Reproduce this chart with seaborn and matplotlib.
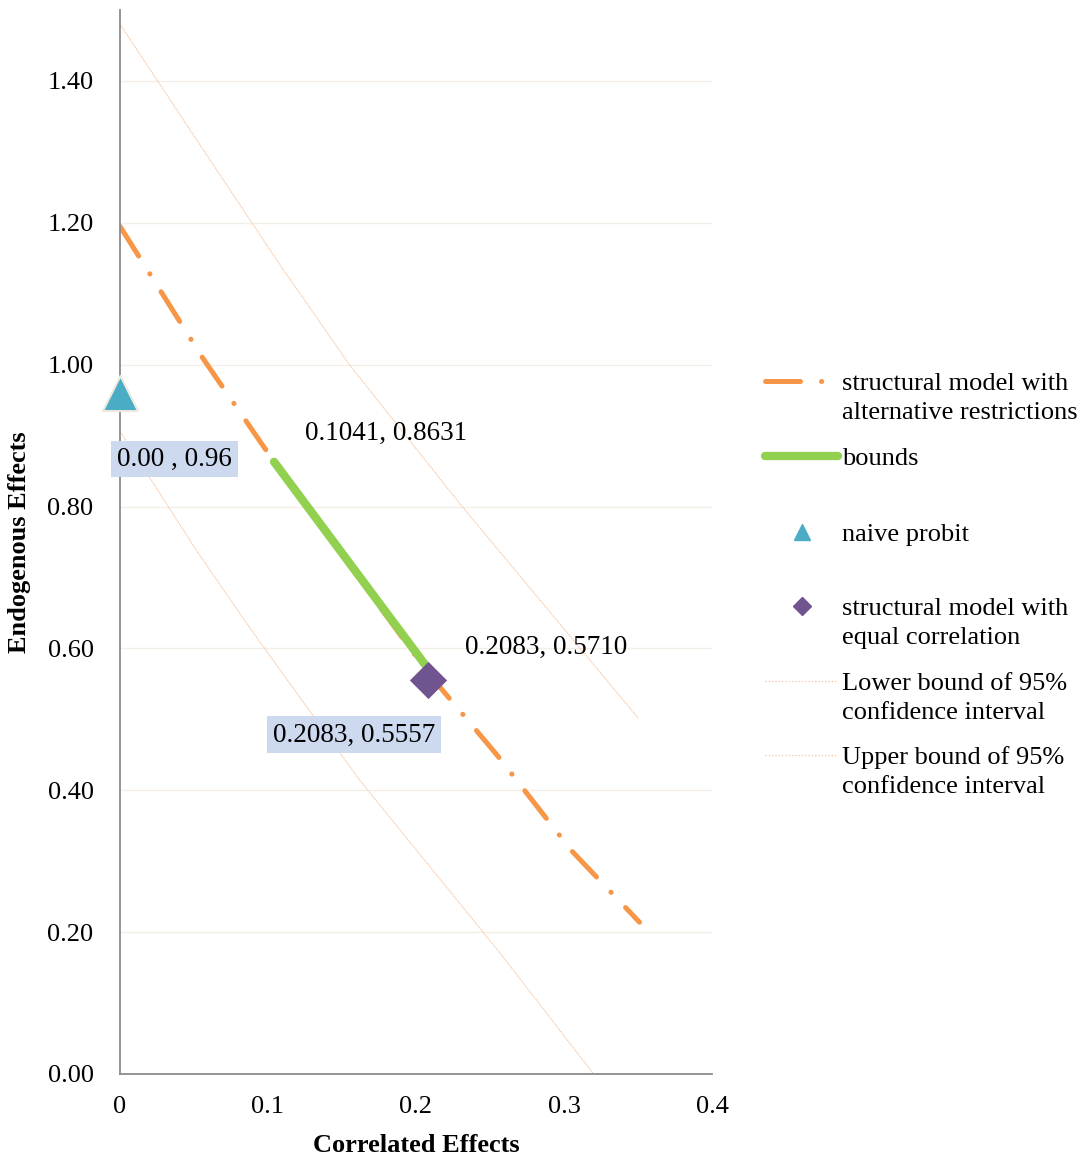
import numpy as np
import pandas as pd
import matplotlib
matplotlib.use("Agg")
import matplotlib.pyplot as plt
from matplotlib.lines import Line2D
import seaborn as sns

# structural model with alternative restrictions (curve)
altX = [0.0, 0.056, 0.1041, 0.2083, 0.255, 0.305, 0.351]
altY = [1.195, 1.009, 0.8631, 0.5650, 0.449, 0.315, 0.214]
# bounds
boundsX = [0.1041, 0.2083]
boundsY = [0.8631, 0.5710]
# naive probit
naiveX = [0.0]
naiveY = [0.96]
# structural model with equal correlation
equalX = [0.2083]
equalY = [0.5557]
# 95% confidence interval
lowerX = [0.0, 0.052, 0.088, 0.162, 0.257, 0.320]
lowerY = [0.906, 0.737, 0.628, 0.414, 0.170, 0.0]
upperX = [0.0, 0.054, 0.108, 0.155, 0.230, 0.350]
upperY = [1.480, 1.310, 1.141, 1.000, 0.803, 0.502]

yTicks = [0.0, 0.2, 0.4, 0.6, 0.8, 1.0, 1.2, 1.4]
xTicks = [0, 0.1, 0.2, 0.3, 0.4]
xTickLabels = ["0", "0.1", "0.2", "0.3", "0.4"]

legendLabels = [
    ["structural model with", "alternative restrictions"],
    ["bounds"],
    ["naive probit"],
    ["structural model with", "equal correlation"],
    ["Lower bound of 95%", "confidence interval"],
    ["Upper bound of 95%", "confidence interval"],
]

orange = "#F79646"
green = "#92D050"
teal = "#4BACC6"
purple = "#70548F"
ciColor = "#F9C29A"
dashDot = (0, (7, 4.2, 0.05, 4.2))

sns.set_theme(style="white")
plt.rcParams["font.family"] = ["Liberation Serif", "DejaVu Serif"]
plt.rcParams["text.color"] = "black"
plt.rcParams["axes.labelcolor"] = "black"

W, H = 1089, 1160
fig = plt.figure(figsize=(W / 100, H / 100), dpi=100)
ax = fig.add_axes([120 / W, 1 - 1074 / H, 592 / W, 1064 / H])

ax.set_xlim(0, 0.4)
ax.set_ylim(0, 1.5)
for yv in yTicks:
    ax.axhline(yv, color="#F3EFE6", linewidth=0.9, zorder=0)

sns.lineplot(x=lowerX, y=lowerY, ax=ax, color=ciColor, linewidth=0.7, sort=False, estimator=None,
             linestyle=(0, (1.5, 0.8)))
sns.lineplot(x=upperX, y=upperY, ax=ax, color=ciColor, linewidth=0.7, sort=False, estimator=None,
             linestyle=(0, (1.5, 0.8)))
sns.lineplot(x=altX, y=altY, ax=ax, color=orange, linewidth=3.6, sort=False, estimator=None,
             linestyle=dashDot, dash_capstyle="round")
sns.lineplot(x=boundsX, y=boundsY, ax=ax, color=green, linewidth=6, sort=False, estimator=None,
             solid_capstyle="round")
sns.scatterplot(x=naiveX, y=naiveY, ax=ax, marker="^", s=640, color=teal,
                edgecolor="#EDEBDD", linewidth=1.5, zorder=5, clip_on=False)
sns.scatterplot(x=equalX, y=equalY, ax=ax, marker="D", s=360, color=purple,
                edgecolor=purple, linewidth=0, zorder=5)

boxStyle = dict(boxstyle="square,pad=0.22", facecolor="#CCD9EF", edgecolor="none")
ax.text(0.037, 0.867, "0.00 , 0.96", fontsize=19.5, ha="center", va="center", bbox=boxStyle, zorder=6)
ax.text(0.180, 0.903, "0.1041, 0.8631", fontsize=19.5, ha="center", va="center")
ax.text(0.288, 0.601, "0.2083, 0.5710", fontsize=19.5, ha="center", va="center")
ax.text(0.158, 0.478, "0.2083, 0.5557", fontsize=19.5, ha="center", va="center", bbox=boxStyle, zorder=6)

ax.set_yticks(yTicks)
ax.set_yticklabels([f"{v:.2f}" for v in yTicks])
ax.set_xticks(xTicks)
ax.set_xticklabels(xTickLabels)
ax.tick_params(axis="both", labelsize=19, length=6, width=1.2, color="#8C8C8C",
               direction="out", colors="#8C8C8C", labelcolor="black")
ax.tick_params(axis="x", pad=10)
ax.tick_params(axis="y", pad=13)
sns.despine(ax=ax)
for side in ["left", "bottom"]:
    ax.spines[side].set_color("#8C8C8C")
    ax.spines[side].set_linewidth(1.3)

ax.set_xlabel("Correlated Effects", fontsize=19, fontweight="bold", labelpad=11)
ax.set_ylabel("Endogenous Effects", fontsize=19, fontweight="bold", labelpad=12)

handles = [
    Line2D([], [], color=orange, linewidth=3.6, linestyle=dashDot, dash_capstyle="round"),
    Line2D([], [], color=green, linewidth=6, solid_capstyle="round"),
    Line2D([], [], color=teal, marker="^", markersize=11, linestyle="none"),
    Line2D([], [], color=purple, marker="D", markersize=9, linestyle="none"),
    Line2D([], [], color=ciColor, linewidth=0.9, linestyle=":"),
    Line2D([], [], color=ciColor, linewidth=0.9, linestyle=":"),
]
# first-line centres of each legend entry, in pixels from the top
entryY = [383, 458, 534, 608, 683, 757]
fontPx = 19 * 100 / 72
legends = []
for handle, lines, yPx in zip(handles, legendLabels, entryY):
    leg = fig.legend([handle], [lines[0]], loc="center left", bbox_to_anchor=(765 / W, 1 - yPx / H),
                     frameon=False, fontsize=19, handlelength=73 / fontPx, handletextpad=4 / fontPx,
                     borderaxespad=0, borderpad=0, labelcolor="black")
    legends.append((leg, lines, yPx))

fig.canvas.draw()
for leg, lines, yPx in legends:
    if len(lines) > 1:
        x0 = leg.get_texts()[0].get_window_extent().x0
        fig.text(x0 / W, 1 - (yPx + 30) / H, lines[1], fontsize=19, ha="left", va="center")

fig.savefig("out.png", dpi=100)
